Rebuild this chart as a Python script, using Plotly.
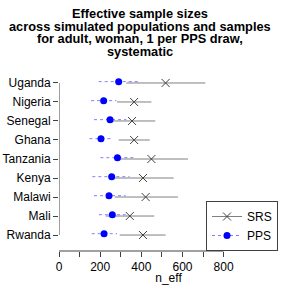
import plotly.graph_objects as go

countries = ["Uganda", "Nigeria", "Senegal", "Ghana", "Tanzania", "Kenya", "Malawi", "Mali", "Rwanda"]
srs_est = [518, 365, 355, 365, 449, 408, 421, 344, 408]
srs_lo = [327, 282, 262, 290, 271, 262, 271, 227, 295]
srs_hi = [711, 449, 468, 441, 627, 557, 578, 463, 518]
pps_est = [290, 217, 248, 204, 284, 256, 243, 259, 219]
pps_lo = [193, 156, 170, 148, 201, 162, 170, 194, 159]
pps_hi = [384, 279, 327, 262, 371, 343, 324, 324, 282]
x_ticks = [0, 100, 200, 300, 400, 500, 600, 700, 800]
x_labels = ["0", "", "200", "", "400", "", "600", "", "800"]

n = len(countries)
ypos = [n - i for i in range(n)]
pps_off = 0.07

FONT = "Liberation Sans, Arial, Helvetica, sans-serif"

def seg(lo, hi, ys):
    xs, yy = [], []
    for a, b, y in zip(lo, hi, ys):
        xs += [a, b, None]
        yy += [y, y, None]
    return xs, yy

def pts(est, ys):
    xs, yy = [], []
    for e, y in zip(est, ys):
        xs += [e, None]
        yy += [y, None]
    return xs, yy

fig = go.Figure()

srs_line = dict(color="#808080", width=1)
pps_line = dict(color="#7f7fff", width=1, dash="dot")

sx, sy = seg(srs_lo, srs_hi, ypos)
fig.add_trace(go.Scatter(x=sx, y=sy, mode="lines", line=srs_line,
                         showlegend=False, hoverinfo="skip", legendgroup="srs"))
ex, ey = pts(srs_est, ypos)
fig.add_trace(go.Scatter(x=ex, y=ey, mode="lines+markers", name="SRS", legendgroup="srs",
                         line=srs_line, connectgaps=False,
                         marker=dict(symbol="x-thin-open", size=8, color="#404040",
                                     line=dict(color="#404040", width=1))))

ypps = [y + pps_off for y in ypos]
px_, py_ = seg(pps_lo, pps_hi, ypps)
fig.add_trace(go.Scatter(x=px_, y=py_, mode="lines", line=pps_line,
                         showlegend=False, hoverinfo="skip", legendgroup="pps"))
ex2, ey2 = pts(pps_est, ypps)
fig.add_trace(go.Scatter(x=ex2, y=ey2, mode="lines+markers", name="PPS", legendgroup="pps",
                         line=pps_line, connectgaps=False,
                         marker=dict(symbol="circle", size=7, color="#0000ff")))

L, R, T, B = 59, 7, 67, 34
plot_h = 285 - T - B
bottom_px = 285 - B

def py(p):
    return (bottom_px - p) / plot_h

shapes = [
    dict(type="line", xref="x", yref="paper", x0=0, x1=800, y0=0, y1=0,
         line=dict(color="#404040", width=1)),
    dict(type="line", xref="x", yref="y", x0=0, x1=0, y0=1, y1=n,
         line=dict(color="#404040", width=1)),
]

title_lines = ["Effective sample sizes",
               "across simulated populations and samples",
               "for adult, woman, 1 per PPS draw,",
               "systematic"]
title_y = [13.5, 26.2, 38.9, 51.6]
title_x = (140 - L) / (285 - L - R)
annotations = [dict(text="<b>%s</b>" % t, x=title_x, y=py(yy), xref="paper", yref="paper",
                    xanchor="center", yanchor="middle", showarrow=False,
                    font=dict(size=12.8, color="black", family=FONT))
               for t, yy in zip(title_lines, title_y)]

fig.update_layout(
    width=285, height=285,
    margin=dict(l=L, r=R, t=T, b=B, pad=0, autoexpand=False),
    paper_bgcolor="white", plot_bgcolor="white",
    font=dict(family=FONT, size=12, color="black"),
    shapes=shapes, annotations=annotations,
    xaxis=dict(range=[0, (285 - R - L) / 0.2058], tickvals=x_ticks, ticktext=x_labels,
               ticks="outside", ticklen=5, tickcolor="#404040", showgrid=False,
               zeroline=False, showline=False, automargin=False,
               title=dict(text="n_eff", standoff=3, font=dict(size=12)),
               tickfont=dict(size=12)),
    yaxis=dict(range=[0.16, n + 0.84], tickvals=ypos, ticktext=countries,
               ticks="outside", ticklen=5, tickcolor="#404040", showgrid=False,
               zeroline=False, showline=False, automargin=False, tickfont=dict(size=12)),
    legend=dict(x=1, y=0, xanchor="right", yanchor="bottom",
                bordercolor="#404040", borderwidth=1, bgcolor="white",
                font=dict(size=12), tracegroupgap=0, itemwidth=30),
    showlegend=True,
)

fig.write_html("out.html", config={"displayModeBar": False},
               post_script="document.body.style.margin='0';document.body.style.overflow='hidden';")
